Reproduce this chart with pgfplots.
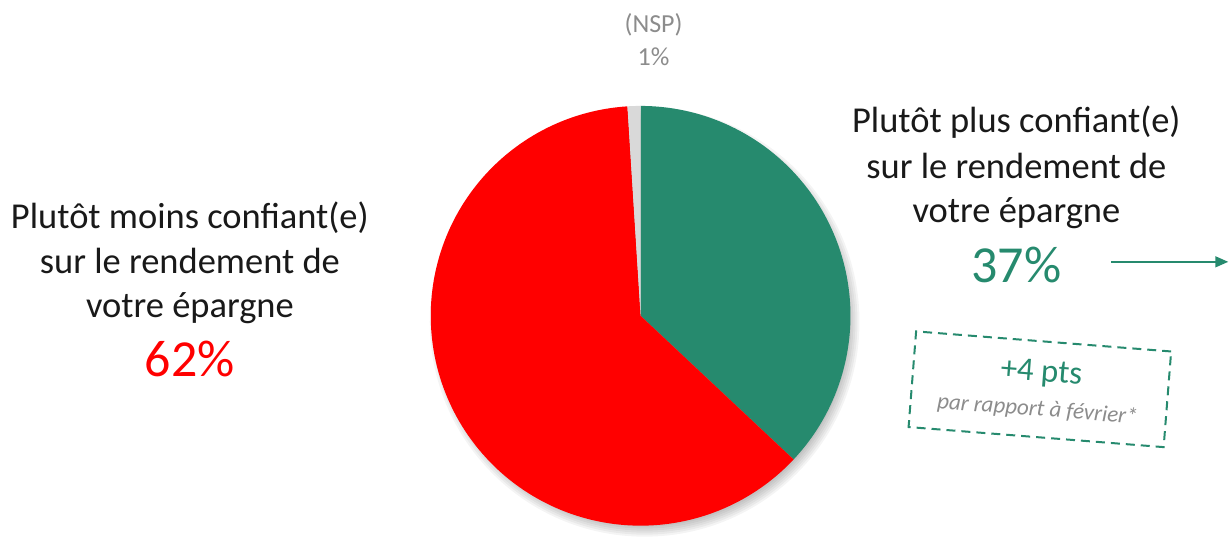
\documentclass[border=0pt]{standalone}
\usepackage{pgfplots}
\usepackage{pgfplotstable}
\pgfplotsset{compat=1.18}
\usetikzlibrary{arrows.meta}
\usepackage{fontspec}
\setmainfont{Carlito}
\definecolor{pgreen}{RGB}{38,138,110}
\definecolor{pred}{RGB}{255,0,0}
\definecolor{pgray}{RGB}{217,217,217}
\definecolor{tgray}{RGB}{140,140,140}
\definecolor{tblack}{RGB}{25,25,25}

\pgfplotstableread{
label value
Plus 37
Moins 62
NSP 1
}\pietable

\begin{document}
\begin{tikzpicture}
\pgfplotstablegetelem{0}{value}\of\pietable \let\vPlus\pgfplotsretval
\pgfplotstablegetelem{1}{value}\of\pietable \let\vMoins\pgfplotsretval
\pgfplotstablegetelem{2}{value}\of\pietable \let\vNSP\pgfplotsretval
\pgfmathsetmacro\aA{3.6*\vPlus}
\pgfmathsetmacro\aB{3.6*(\vPlus+\vMoins)}
\pgfmathsetmacro\aC{3.6*(\vPlus+\vMoins+\vNSP)}
\begin{axis}[x=1pt,y=1pt,xmin=0,xmax=1229,ymin=0,ymax=540,hide axis,clip=false]
\path (axis cs:0,0) rectangle (axis cs:1229,540);
% shadow
\pgfplotsinvokeforeach{203,205,207,209,211,213,215}{
  \fill[black,opacity=0.045] (axis cs:645,218) circle[radius=#1pt];
}
% slices
\addplot[draw=none,fill=pgreen,domain=0:\aA,samples=90,variable=\t]
  ({641+210*sin(\t)},{224+210*cos(\t)}) -- (axis cs:641,224) -- cycle;
\addplot[draw=none,fill=pred,domain=\aA:\aB,samples=150,variable=\t]
  ({641+210*sin(\t)},{224+210*cos(\t)}) -- (axis cs:641,224) -- cycle;
\addplot[draw=none,fill=pgray,domain=\aB:\aC,samples=10,variable=\t]
  ({641+210*sin(\t)},{224+210*cos(\t)}) -- (axis cs:641,224) -- cycle;
% NSP label
\node[anchor=base,text=tgray,font=\fontsize{26}{30}\selectfont] at (axis cs:654,507) {(NSP)};
\node[anchor=base,text=tgray,font=\fontsize{26}{30}\selectfont] at (axis cs:654,474.5) {1\%};
% left label
\node[anchor=base,text=tblack,font=\fontsize{36.5}{44}\selectfont] at (axis cs:190,311) {Plutôt moins confiant(e)};
\node[anchor=base,text=tblack,font=\fontsize{36.5}{44}\selectfont] at (axis cs:190,266) {sur le rendement de};
\node[anchor=base,text=tblack,font=\fontsize{36.5}{44}\selectfont] at (axis cs:190,222) {votre épargne};
\node[anchor=base,text=pred,font=\fontsize{52}{60}\selectfont] at (axis cs:190,163) {62\%};
% right label
\node[anchor=base,text=tblack,font=\fontsize{36.5}{44}\selectfont] at (axis cs:1017,407) {Plutôt plus confiant(e)};
\node[anchor=base,text=tblack,font=\fontsize{36.5}{44}\selectfont] at (axis cs:1017,361) {sur le rendement de};
\node[anchor=base,text=tblack,font=\fontsize{36.5}{44}\selectfont] at (axis cs:1017,317) {votre épargne};
\node[anchor=base,text=pgreen,font=\fontsize{52}{60}\selectfont] at (axis cs:1017,257) {37\%};
% arrow
\draw[pgreen,line width=1.5pt,-{Triangle[length=13pt,width=11pt]}] (axis cs:1112,278) -- (axis cs:1229,278);
% box
\node[draw=pgreen,line width=2pt,dash pattern=on 9pt off 6pt,rotate=-4.5,minimum width=256pt,minimum height=96pt,inner sep=0pt] at (axis cs:1040.5,150.5) {};
\node[rotate=-4.5,inner sep=0pt,text=pgreen,font=\fontsize{33}{40}\selectfont] at (axis cs:1042,166) {+4 pts};
\node[rotate=-4.5,inner sep=0pt,text=tgray,font=\itshape\fontsize{23}{28}\selectfont] at (axis cs:1038,130) {par rapport à février*};
\end{axis}
\end{tikzpicture}
\end{document}
